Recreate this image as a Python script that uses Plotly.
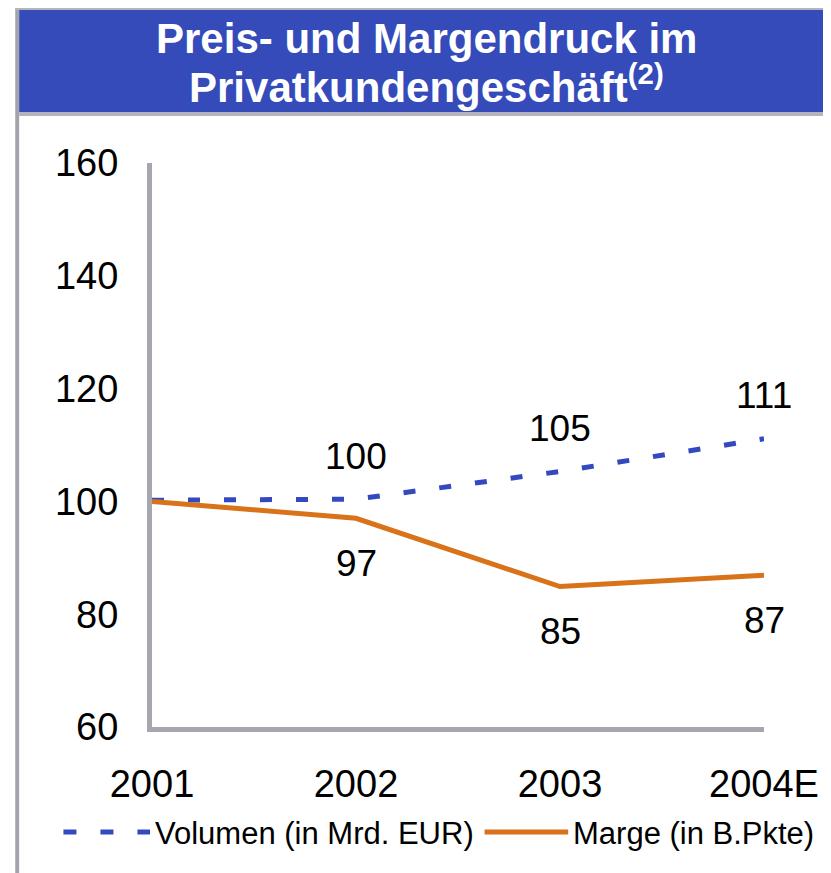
import plotly.graph_objects as go

# ---- data ----
years = ["2001", "2002", "2003", "2004E"]
volumen = [100.2, 100.4, 105.3, 111.1]   # Volumen (in Mrd. EUR), indexed
marge = [100.0, 97.0, 84.9, 86.9]        # Marge (in B.Pkte), indexed
y_ticks = [60, 80, 100, 120, 140, 160]

# ---- geometry (pixels, in reference-screenshot coordinates) ----
OFF = 8  # browser body margin
W, H = 831 - OFF, 873 - OFF
L, R, T, B = 152 - OFF, 57, 163 - OFF, 146
PW = W - L - R
PH = H - T - B


def px(x):
    return (x - OFF - L) / PW


def py(y):
    return (T + PH - (y - OFF)) / PH


FONT = "Liberation Sans, Arial, sans-serif"
BLUE_BANNER = "#344BB9"
BLUE_LINE = "#3449BF"
ORANGE = "#D8731A"
GREY = "#A6A6B0"

fig = go.Figure()
fig.add_trace(go.Scatter(
    x=years, y=volumen, mode="lines", name="Volumen (in Mrd. EUR)",
    line=dict(color=BLUE_LINE, width=5, dash="12px,24px"), showlegend=False,
))
fig.add_trace(go.Scatter(
    x=years, y=marge, mode="lines", name="Marge (in B.Pkte)",
    line=dict(color=ORANGE, width=5), showlegend=False,
))

annotations = []
for i in range(1, len(years)):
    annotations.append(dict(x=i, y=volumen[i], text=f"{volumen[i]:.0f}",
                            showarrow=False, yshift=43, xref="x", yref="y",
                            font=dict(size=37, color="black", family=FONT)))
    annotations.append(dict(x=i, y=marge[i], text=f"{marge[i]:.0f}",
                            showarrow=False, yshift=-45, xref="x", yref="y",
                            font=dict(size=37, color="black", family=FONT)))

# title in banner
annotations.append(dict(x=px(431), y=py(38), xref="paper", yref="paper",
                        text="Preis- und Margendruck im", showarrow=False,
                        xanchor="center", yanchor="middle",
                        font=dict(size=42, color="white", family=FONT, weight="bold")))
annotations.append(dict(x=px(431), y=py(84), xref="paper", yref="paper",
                        text="Privatkundengeschäft<sup>(2)</sup>", showarrow=False,
                        xanchor="center", yanchor="middle",
                        font=dict(size=42, color="white", family=FONT, weight="bold")))

# legend texts
annotations.append(dict(x=px(153), y=py(833), xref="paper", yref="paper",
                        text="Volumen (in Mrd. EUR)", showarrow=False,
                        xanchor="left", yanchor="middle",
                        font=dict(size=31, color="black", family=FONT)))
annotations.append(dict(x=px(578), y=py(833), xref="paper", yref="paper",
                        text="Marge (in B.Pkte)", showarrow=False,
                        xanchor="left", yanchor="middle",
                        font=dict(size=31, color="black", family=FONT)))

shapes = [
    # frame
    dict(type="rect", xref="paper", yref="paper", x0=px(13), x1=px(17), y0=py(880), y1=py(6),
         fillcolor="#A3A3AB", line=dict(width=0), layer="below"),
    dict(type="rect", xref="paper", yref="paper", x0=px(13), x1=px(840), y0=py(10), y1=py(6),
         fillcolor="#B4B4BC", line=dict(width=0), layer="below"),
    dict(type="rect", xref="paper", yref="paper", x0=px(17), x1=px(840), y0=py(112), y1=py(10),
         fillcolor=BLUE_BANNER, line=dict(width=0), layer="below"),
    dict(type="rect", xref="paper", yref="paper", x0=px(17), x1=px(840), y0=py(116), y1=py(112),
         fillcolor="#B4B4BC", line=dict(width=0), layer="below"),
    # legend symbols
    dict(type="line", xref="paper", yref="paper", x0=px(62), x1=px(150), y0=py(832), y1=py(832),
         line=dict(color=BLUE_LINE, width=5, dash="13px,24px")),
    dict(type="line", xref="paper", yref="paper", x0=px(490), x1=px(575), y0=py(832), y1=py(832),
         line=dict(color=ORANGE, width=5)),
]

fig.update_layout(
    width=W, height=H,
    margin=dict(l=L, r=R, t=T, b=B, pad=0),
    paper_bgcolor="white", plot_bgcolor="white",
    showlegend=False,
    annotations=annotations,
    shapes=shapes,
    xaxis=dict(type="category", range=[0, 3], showgrid=False, zeroline=False,
               showline=True, linecolor=GREY, linewidth=5, ticks="",
               ticklabelstandoff=19,
               tickfont=dict(size=38, color="black", family=FONT)),
    yaxis=dict(range=[60, 160], tickvals=y_ticks, showgrid=False, zeroline=False,
               showline=True, linecolor=GREY, linewidth=5, ticks="",
               ticklabelstandoff=21,
               tickfont=dict(size=38, color="black", family=FONT)),
)

fig.write_html("out.html")
